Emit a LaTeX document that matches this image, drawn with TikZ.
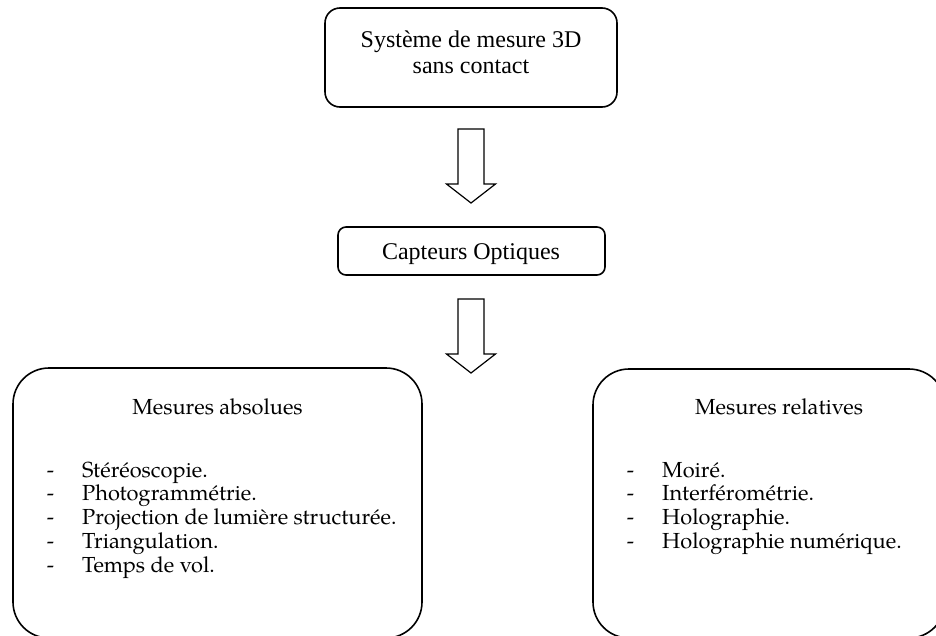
\documentclass[tikz,border=0pt]{standalone}
\usepackage{fontspec}
\setmainfont{Liberation Serif}
\newfontfamily\palafont{TeX Gyre Pagella}
\tikzset{
  boxline/.style={draw=black, line width=1.6pt},
  topbox/.style={boxline, rounded corners=15pt, minimum width=292pt, minimum height=99pt, inner sep=0pt},
  midbox/.style={boxline, rounded corners=8pt, minimum width=267pt, minimum height=48pt, inner sep=0pt},
  bigbox/.style={boxline, rounded corners=36pt, inner sep=0pt},
  timestext/.style={align=center, inner sep=0pt, font=\fontsize{24}{26}\selectfont},
  titletext/.style={anchor=base, inner sep=0pt, font=\palafont\fontsize{21.8}{24}\selectfont},
  itemtext/.style={anchor=base west, inner sep=0pt, font=\palafont\fontsize{21.8}{24}\selectfont},
  dashtext/.style={anchor=base, inner sep=0pt, font=\palafont\fontsize{21.8}{24}\selectfont},
  blockarrow/.pic={\draw[line width=1.2pt, line join=miter] (-13,0) -- (13,0) -- (13,55) -- (24.5,55) -- (0,74) -- (-24.5,55) -- (-13,55) -- cycle;}
}
\begin{document}
\begin{tikzpicture}[x=1pt,y=-1pt]
\useasboundingbox (0,0) rectangle (936,635);
\clip (0,0) rectangle (936,635);
\node[topbox] (sys) at (471,57.5) {};
\node[timestext, anchor=base] (systxt) at (471,73) {Système de mesure 3D\\sans contact};
\node[midbox] (capt) at (471.5,251) {};
\node[timestext, anchor=base] (capttxt) at (471,259) {Capteurs Optiques};
\node[bigbox, minimum width=409pt, minimum height=270pt] (abs) at (217.5,503) {};
\node[bigbox, minimum width=352pt, minimum height=269pt] (rel) at (769,503.5) {};
\coordinate (a1) at (471,129);
\coordinate (a2) at (471,299);
\pic at (a1) {blockarrow};
\pic at (a2) {blockarrow};
\node[titletext] (tabs) at (217.5,414) {Mesures absolues};
\node[titletext] (trel) at (779,414) {Mesures relatives};
\foreach \t [count=\i] in {Stéréoscopie., Photogrammétrie., Projection de lumière structurée., Triangulation., Temps de vol.}{
  \node[dashtext] (dl\i) at (50.5,{477+23.8*(\i-1)}) {-};
  \node[itemtext] (il\i) at (82,{477+23.8*(\i-1)}) {\t};
}
\foreach \t [count=\i] in {Moiré., Interférométrie., Holographie., Holographie numérique.}{
  \node[dashtext] (dr\i) at (630.5,{477+23.8*(\i-1)}) {-};
  \node[itemtext] (ir\i) at (662,{477+23.8*(\i-1)}) {\t};
}
\end{tikzpicture}
\end{document}
